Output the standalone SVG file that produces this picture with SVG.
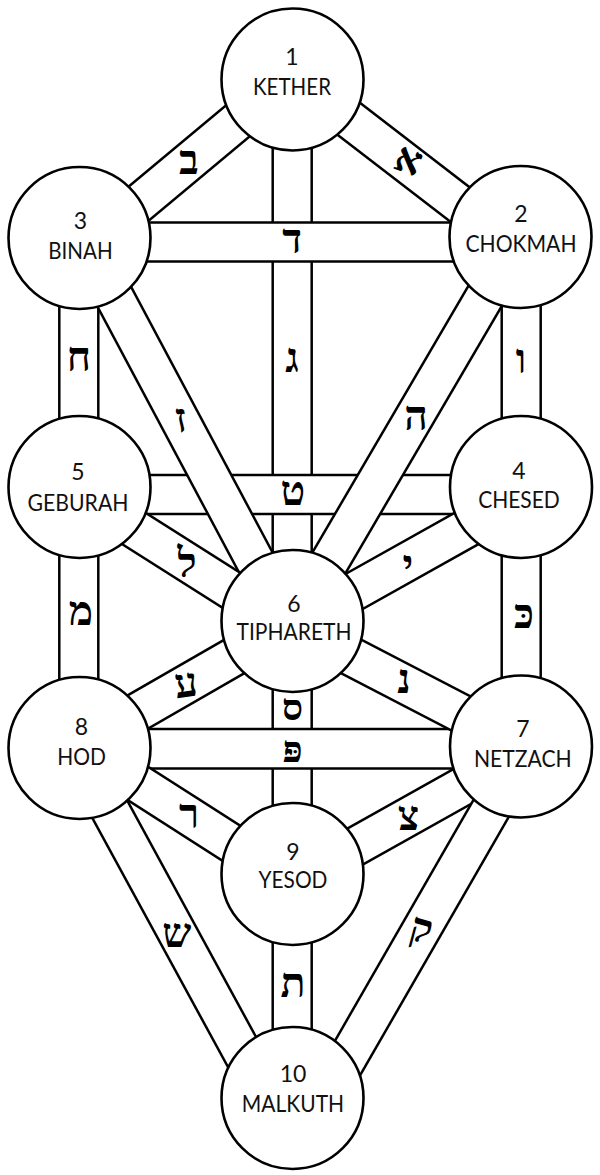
<svg xmlns="http://www.w3.org/2000/svg" width="600" height="1175" viewBox="0 0 600 1175">
<style>
.bf{fill:#fff;stroke:none}
.bl{stroke:#000;stroke-width:2.5;fill:none}
.node circle{fill:#fff;stroke:#000;stroke-width:2.6}
.num,.name{font-family:Lato,"Liberation Sans",sans-serif;font-size:23px;fill:#111;text-anchor:middle}
.heb{font-family:"Liberation Serif","DejaVu Serif",serif;font-size:41px;font-weight:bold;fill:#000;text-anchor:middle}
.heb.sm{font-size:37px}
</style>
<rect width="600" height="1175" fill="#fff"/>
<g id="connectors">
  <g id="p-gimel"><rect class="bf" x="272.7" y="79.5" width="39" height="541.5"/><line class="bl" x1="272.7" y1="79.5" x2="272.7" y2="621"/><line class="bl" x1="311.7" y1="79.5" x2="311.7" y2="621"/></g>
  <g id="p-samekh"><rect class="bf" x="272.7" y="621" width="39" height="253"/><line class="bl" x1="272.7" y1="621" x2="272.7" y2="874"/><line class="bl" x1="311.7" y1="621" x2="311.7" y2="874"/></g>
  <g id="p-tav"><rect class="bf" x="272.7" y="874" width="39" height="224"/><line class="bl" x1="272.7" y1="874" x2="272.7" y2="1098"/><line class="bl" x1="311.7" y1="874" x2="311.7" y2="1098"/></g>
  <g id="p-cheth"><rect class="bf" x="59.3" y="238" width="39" height="249"/><line class="bl" x1="59.3" y1="238" x2="59.3" y2="487"/><line class="bl" x1="98.3" y1="238" x2="98.3" y2="487"/></g>
  <g id="p-mem"><rect class="bf" x="59.3" y="487" width="39" height="261"/><line class="bl" x1="59.3" y1="487" x2="59.3" y2="748"/><line class="bl" x1="98.3" y1="487" x2="98.3" y2="748"/></g>
  <g id="p-vav"><rect class="bf" x="501.7" y="237" width="39" height="250"/><line class="bl" x1="501.7" y1="237" x2="501.7" y2="487"/><line class="bl" x1="540.7" y1="237" x2="540.7" y2="487"/></g>
  <g id="p-kaph"><rect class="bf" x="501.7" y="487" width="39" height="259.5"/><line class="bl" x1="501.7" y1="487" x2="501.7" y2="746.5"/><line class="bl" x1="540.7" y1="487" x2="540.7" y2="746.5"/></g>
  <g id="p-daleth"><rect class="bf" x="79.5" y="222.5" width="441" height="39"/><line class="bl" x1="79.5" y1="222.5" x2="520.5" y2="222.5"/><line class="bl" x1="79.5" y1="261.5" x2="520.5" y2="261.5"/></g>
  <g id="p-teth"><rect class="bf" x="79.5" y="475" width="441.5" height="39"/><line class="bl" x1="79.5" y1="475" x2="521" y2="475"/><line class="bl" x1="79.5" y1="514" x2="521" y2="514"/></g>
  <g id="p-peh"><rect class="bf" x="79.5" y="729" width="441.5" height="39.4"/><line class="bl" x1="79.5" y1="729" x2="521" y2="729"/><line class="bl" x1="79.5" y1="768.4" x2="521" y2="768.4"/></g>
  <g id="p-aleph" transform="translate(292.5,75.5) rotate(37.59)"><rect class="bf" x="0" y="-19.5" width="287.7" height="39"/><line class="bl" x1="0" y1="-19.5" x2="287.7" y2="-19.5"/><line class="bl" x1="0" y1="19.5" x2="287.7" y2="19.5"/></g>
  <g id="p-beth" transform="translate(292.5,75.3) rotate(140.16)"><rect class="bf" x="0" y="-19.5" width="277.4" height="39"/><line class="bl" x1="0" y1="-19.5" x2="277.4" y2="-19.5"/><line class="bl" x1="0" y1="19.5" x2="277.4" y2="19.5"/></g>
  <g id="p-heh" transform="translate(519.6,237) rotate(120.33)"><rect class="bf" x="0" y="-19.5" width="444.9" height="39"/><line class="bl" x1="0" y1="-19.5" x2="444.9" y2="-19.5"/><line class="bl" x1="0" y1="19.5" x2="444.9" y2="19.5"/></g>
  <g id="p-zayin" transform="translate(83,238) rotate(61.96)"><rect class="bf" x="0" y="-19.5" width="433.9" height="39"/><line class="bl" x1="0" y1="-19.5" x2="433.9" y2="-19.5"/><line class="bl" x1="0" y1="19.5" x2="433.9" y2="19.5"/></g>
  <g id="p-yod" transform="translate(521,498) rotate(150.74)"><rect class="bf" x="0" y="-19.5" width="261.9" height="39"/><line class="bl" x1="0" y1="-19.5" x2="261.9" y2="-19.5"/><line class="bl" x1="0" y1="19.5" x2="261.9" y2="19.5"/></g>
  <g id="p-lamed" transform="translate(79.5,494) rotate(32.37)"><rect class="bf" x="0" y="-19.5" width="252.2" height="39"/><line class="bl" x1="0" y1="-19.5" x2="252.2" y2="-19.5"/><line class="bl" x1="0" y1="19.5" x2="252.2" y2="19.5"/></g>
  <g id="p-nun" transform="translate(292.5,626) rotate(27.43)"><rect class="bf" x="0" y="-19.5" width="257.4" height="39"/><line class="bl" x1="0" y1="-19.5" x2="257.4" y2="-19.5"/><line class="bl" x1="0" y1="19.5" x2="257.4" y2="19.5"/></g>
  <g id="p-ayin" transform="translate(79.5,745.6) rotate(-29.92)"><rect class="bf" x="0" y="-19.5" width="245.8" height="39"/><line class="bl" x1="0" y1="-19.5" x2="245.8" y2="-19.5"/><line class="bl" x1="0" y1="19.5" x2="245.8" y2="19.5"/></g>
  <g id="p-tzaddi" transform="translate(521,753.6) rotate(150.74)"><rect class="bf" x="0" y="-19.5" width="261.9" height="39"/><line class="bl" x1="0" y1="-19.5" x2="261.9" y2="-19.5"/><line class="bl" x1="0" y1="19.5" x2="261.9" y2="19.5"/></g>
  <g id="p-resh" transform="translate(79.5,746) rotate(32.63)"><rect class="bf" x="0" y="-19.5" width="252.9" height="39"/><line class="bl" x1="0" y1="-19.5" x2="252.9" y2="-19.5"/><line class="bl" x1="0" y1="19.5" x2="252.9" y2="19.5"/></g>
  <g id="p-shin" transform="translate(76.4,748) rotate(61.42)"><rect class="bf" x="0" y="-19.5" width="398.5" height="39"/><line class="bl" x1="0" y1="-19.5" x2="398.5" y2="-19.5"/><line class="bl" x1="0" y1="19.5" x2="398.5" y2="19.5"/></g>
  <g id="p-qoph" transform="translate(526.7,746.5) rotate(119.9)"><rect class="bf" x="0" y="-19.5" width="405.5" height="39"/><line class="bl" x1="0" y1="-19.5" x2="405.5" y2="-19.5"/><line class="bl" x1="0" y1="19.5" x2="405.5" y2="19.5"/></g>
</g>
<g id="path-letters">
  <text class="heb" x="408" y="173" transform="rotate(20 408 162)">א</text>
  <text class="heb" x="189" y="174">ב</text>
  <text class="heb" x="292" y="372">ג</text>
  <text class="heb" x="292" y="253">ד</text>
  <text class="heb" x="416" y="430">ה</text>
  <text class="heb" x="521" y="373">ו</text>
  <text class="heb" x="181" y="432" transform="rotate(-10 181 420)">ז</text>
  <text class="heb" x="79" y="371">ח</text>
  <text class="heb" x="293" y="505">ט</text>
  <text class="heb" x="408" y="579">י</text>
  <text class="heb" x="524" y="628">כּ</text>
  <text class="heb" x="187" y="577">ל</text>
  <text class="heb" x="81" y="625">מ</text>
  <text class="heb" x="404" y="693">נ</text>
  <text class="heb sm" x="292.5" y="720">ס</text>
  <text class="heb" x="186" y="697" transform="rotate(-8 186 685)">ע</text>
  <text class="heb sm" x="292.5" y="762">פּ</text>
  <text class="heb" x="408.5" y="830">צ</text>
  <text class="heb" x="421" y="942" transform="rotate(15 421 931)">ק</text>
  <text class="heb" x="189" y="828">ר</text>
  <text class="heb" x="176.7" y="946.7">ש</text>
  <text class="heb" x="293" y="997">ת</text>
</g>
<g id="kether" class="node"><circle cx="292.5" cy="79.5" r="71"/><text class="num" x="292" y="65">1</text><text class="name" x="292" y="95" textLength="78" lengthAdjust="spacingAndGlyphs">KETHER</text></g>
<g id="chokmah" class="node"><circle cx="520.5" cy="237" r="71"/><text class="num" x="521" y="222">2</text><text class="name" x="521" y="252" textLength="111" lengthAdjust="spacingAndGlyphs">CHOKMAH</text></g>
<g id="binah" class="node"><circle cx="79.5" cy="238" r="71"/><text class="num" x="80.5" y="229">3</text><text class="name" x="80.5" y="259" textLength="64.4" lengthAdjust="spacingAndGlyphs">BINAH</text></g>
<g id="chesed" class="node"><circle cx="521" cy="487" r="71"/><text class="num" x="519" y="479">4</text><text class="name" x="519" y="508" textLength="81.7" lengthAdjust="spacingAndGlyphs">CHESED</text></g>
<g id="geburah" class="node"><circle cx="79.5" cy="487" r="71"/><text class="num" x="78" y="480">5</text><text class="name" x="78" y="511" textLength="101" lengthAdjust="spacingAndGlyphs">GEBURAH</text></g>
<g id="tiphareth" class="node"><circle cx="292.5" cy="621" r="71"/><text class="num" x="294" y="612">6</text><text class="name" x="294" y="640" textLength="115" lengthAdjust="spacingAndGlyphs">TIPHARETH</text></g>
<g id="netzach" class="node"><circle cx="521" cy="746.5" r="71"/><text class="num" x="522.8" y="737">7</text><text class="name" x="522.8" y="767" textLength="97.7" lengthAdjust="spacingAndGlyphs">NETZACH</text></g>
<g id="hod" class="node"><circle cx="79.5" cy="748" r="71"/><text class="num" x="81.5" y="735">8</text><text class="name" x="81.5" y="765" textLength="48.7" lengthAdjust="spacingAndGlyphs">HOD</text></g>
<g id="yesod" class="node"><circle cx="292.5" cy="874" r="71"/><text class="num" x="293" y="860">9</text><text class="name" x="293" y="888" textLength="69" lengthAdjust="spacingAndGlyphs">YESOD</text></g>
<g id="malkuth" class="node"><circle cx="292.5" cy="1098" r="71"/><text class="num" x="293" y="1082">10</text><text class="name" x="293" y="1112" textLength="102.3" lengthAdjust="spacingAndGlyphs">MALKUTH</text></g>
</svg>
